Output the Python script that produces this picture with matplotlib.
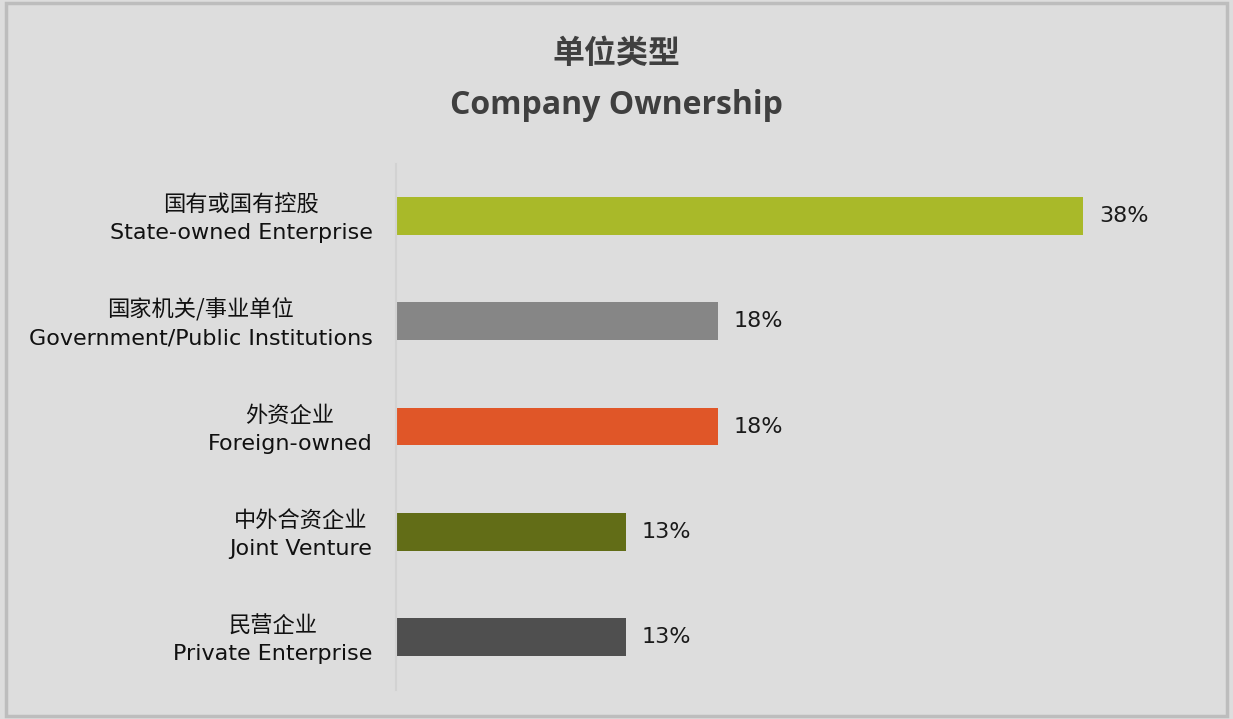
import matplotlib
matplotlib.use("Agg")
import matplotlib.pyplot as plt
from matplotlib.patches import Rectangle

# data
labels_cn = ["国有或国有控股", "国家机关/事业单位", "外资企业", "中外合资企业", "民营企业"]
labels_en = ["State-owned Enterprise", "Government/Public Institutions", "Foreign-owned",
             "Joint Venture", "Private Enterprise"]
shares = [38.0, 17.8, 17.8, 12.7, 12.7]
bar_colors = ["#a9b929", "#868686", "#e05628", "#626d17", "#4f4f4f"]

bg = "#dddddd"

fig = plt.figure(figsize=(12.33, 7.19), dpi=100, facecolor=bg)
ax = fig.add_axes([0.3212, 0.041, 0.645, 0.7316], facecolor=bg)

ypos = list(range(len(shares)))
ax.barh(ypos, shares, height=0.36, color=bar_colors)
ax.set_ylim(len(shares) - 0.5, -0.5)
ax.set_xlim(0, 44)

for y, v in zip(ypos, shares):
    ax.text(v + 0.9, y, f"{v:.0f}%", va="center", ha="left", fontsize=16,
            color="#1a1a1a", family=["DejaVu Sans"])

# two-line category labels: Chinese above, English below, centred on each other
for y, cn, en in zip(ypos, labels_cn, labels_en):
    en_txt = ax.annotate(en, xy=(0, y), xytext=(-17, -12.5), textcoords="offset points",
                         ha="right", va="center", fontsize=16, color="#111111",
                         family=["DejaVu Sans"], annotation_clip=False)
    ax.annotate(cn, xy=(0.5, 1.0), xycoords=en_txt, xytext=(0, 5),
                textcoords="offset points", ha="center", va="bottom",
                fontsize=16, color="#111111", family=["Noto Sans CJK SC"])

ax.set_yticks([])
ax.set_xticks([])
for side in ["top", "right", "bottom"]:
    ax.spines[side].set_visible(False)
ax.spines["left"].set_color("#d2d2d2")
ax.spines["left"].set_linewidth(1.5)

fig.text(0.5, 0.925, "单位类型", ha="center", va="center", fontsize=23,
         fontweight="bold", color="#3f3f3f", family=["Noto Sans CJK SC"])
fig.text(0.5, 0.853, "Company Ownership", ha="center", va="center", fontsize=23,
         fontweight="bold", color="#3f3f3f", family=["Open Sans", "DejaVu Sans"])

fig.patches.append(Rectangle((0.005, 0.004), 0.99, 0.992, transform=fig.transFigure,
                             fill=False, edgecolor="#bdbdbd", linewidth=2.5))

fig.savefig("out.png", dpi=100, facecolor=bg)
